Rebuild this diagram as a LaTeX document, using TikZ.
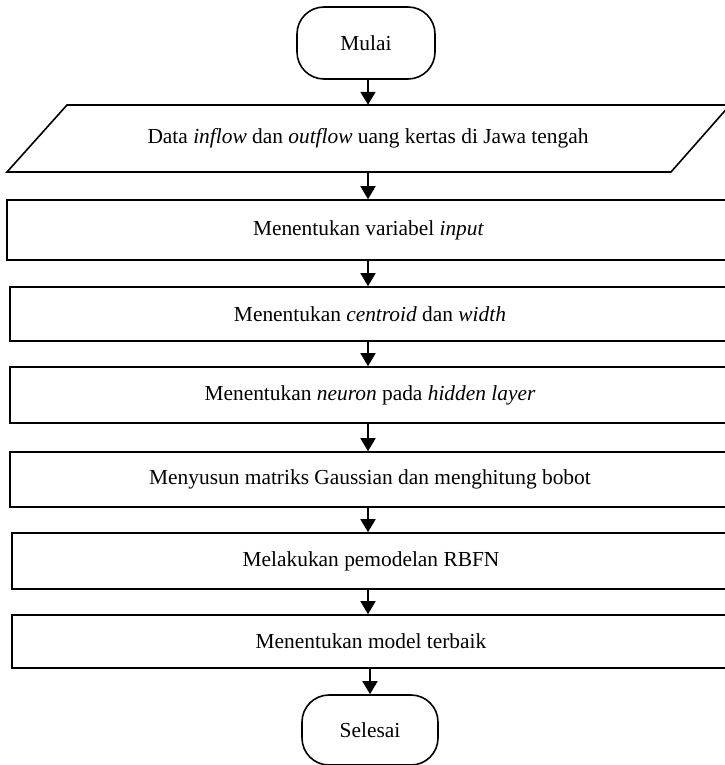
\documentclass[tikz,border=0pt]{standalone}
\usepackage{fontspec}
\setmainfont{Liberation Serif}
\usetikzlibrary{arrows.meta}
\begin{document}
\begin{tikzpicture}[x=1pt,y=-1pt,
  every node/.style={font=\fontsize{21.4}{25}\selectfont, inner sep=0pt},
  ln/.style={line width=1.6pt},
  term/.style={ln, draw, rounded corners=27pt, minimum width=138pt, minimum height=72pt},
  box/.style={ln, draw, rectangle, minimum width=720pt},
  arr/.style={ln, -{Triangle[length=13pt,width=15pt]}}]
\useasboundingbox (0,0) rectangle (724,765);
\coordinate (ax) at (368,0);
\node[term] (mulai) at (366,43) {Mulai};
\draw[ln] (67,105) -- (730,105) -- (671,172) -- (7,172) -- cycle;
\node[minimum width=660pt, minimum height=67pt] (data) at (368,138.5) {Data \textit{inflow} dan \textit{outflow} uang kertas di Jawa tengah};
\node[box, minimum width=723pt, minimum height=60pt] (r1) at (368.5,230) {Menentukan variabel \textit{input}};
\node[box, minimum height=54pt] (r2) at (370,314) {Menentukan \textit{centroid} dan \textit{width}};
\node[box, minimum height=56pt] (r3) at (370,395) {Menentukan \textit{neuron} pada \textit{hidden layer}};
\node[box, minimum height=55pt] (r4) at (370,479.5) {Menyusun matriks Gaussian dan menghitung bobot};
\node[box, minimum width=718pt, minimum height=56pt] (r5) at (371,561) {Melakukan pemodelan RBFN};
\node[box, minimum width=718pt, minimum height=53pt] (r6) at (371,641.5) {Menentukan model terbaik};
\node[term, minimum width=136pt, minimum height=70pt] (selesai) at (370,730) {Selesai};
\draw[arr] (mulai.south -| ax) -- (data.north -| ax);
\draw[arr] (data.south -| ax) -- (r1.north -| ax);
\draw[arr] (r1.south -| ax) -- (r2.north -| ax);
\draw[arr] (r2.south -| ax) -- (r3.north -| ax);
\draw[arr] (r3.south -| ax) -- (r4.north -| ax);
\draw[arr] (r4.south -| ax) -- (r5.north -| ax);
\draw[arr] (r5.south -| ax) -- (r6.north -| ax);
\draw[arr] (r6.south -| selesai.north) -- (selesai.north);
\end{tikzpicture}
\end{document}
